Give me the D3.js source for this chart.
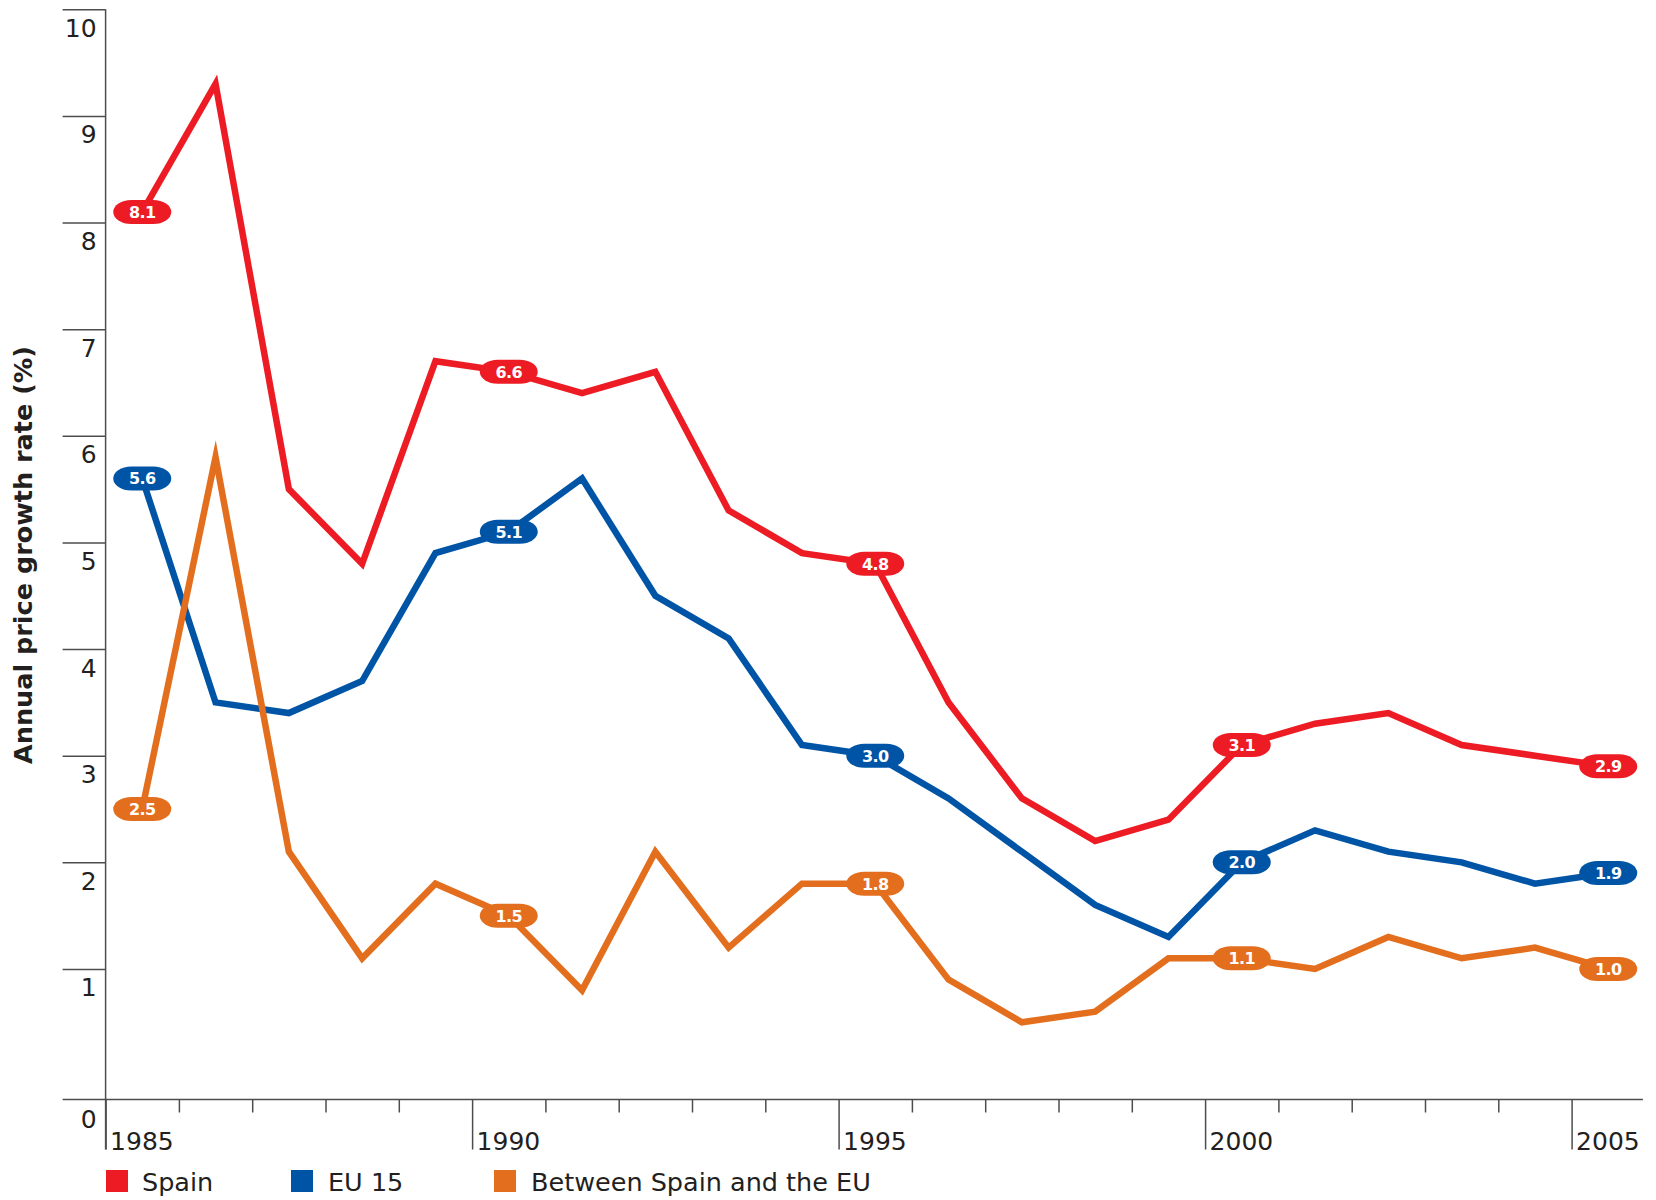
<!DOCTYPE html>
<html>
<head>
<meta charset="utf-8">
<script src="https://cdn.jsdelivr.net/npm/d3@7/dist/d3.min.js"></script>
<style>
  html, body { margin: 0; padding: 0; background: #fff; }
  svg { display: block; }
  text { font-family: "DejaVu Sans", Verdana, sans-serif; fill: #231f20; }
</style>
</head>
<body>
<svg id="chart" width="1656" height="1200"></svg>
<script>
const years = d3.range(1985, 2006);
const spain = [8.1, 9.3, 5.5, 4.8, 6.7, 6.6, 6.4, 6.6, 5.3, 4.9, 4.8, 3.5, 2.6, 2.2, 2.4, 3.1, 3.3, 3.4, 3.1, 3.0, 2.9];
const eu15  = [5.6, 3.5, 3.4, 3.7, 4.9, 5.1, 5.6, 4.5, 4.1, 3.1, 3.0, 2.6, 2.1, 1.6, 1.3, 2.0, 2.3, 2.1, 2.0, 1.8, 1.9];
const diff  = [2.5, 5.8, 2.1, 1.1, 1.8, 1.5, 0.8, 2.1, 1.2, 1.8, 1.8, 0.9, 0.5, 0.6, 1.1, 1.1, 1.0, 1.3, 1.1, 1.2, 1.0];
const seriesNames = ["Spain", "EU 15", "Between Spain and the EU"];
const seriesColors = ["#ed1c24", "#0054a6", "#e36f1e"];
const yTicks = [1, 2, 3, 4, 5, 6, 7, 8, 9, 10];
const majorYears = [1985, 1990, 1995, 2000, 2005];
const labelYears = [1985, 1990, 1995, 2000, 2005];
const yTitle = "Annual price growth rate (%)";

const svg = d3.select("#chart");
const x = d3.scaleLinear().domain([1985, 2006]).range([105.6, 105.6 + 21 * 73.3]);
const y = d3.scaleLinear().domain([0, 10]).range([1075.6, 9.3]);
const baseline = 1099.5;
const axisColor = "#4d4d4d";
const tickFont = "25px";

// Y axis
const yAxis = svg.append("g").attr("transform", `translate(${x(1985)},0)`)
  .call(d3.axisLeft(y).tickValues(yTicks).tickSize(43).tickFormat(d3.format("d")));
yAxis.select(".domain").remove();
yAxis.selectAll(".tick line").attr("stroke", axisColor).attr("stroke-width", 1.5);
yAxis.selectAll(".tick text")
  .attr("x", -9).attr("dy", null).attr("y", 27)
  .style("font-size", tickFont).style("font-family", "DejaVu Sans").attr("fill", "#231f20");
// Vertical axis line
svg.append("line").attr("x1", x(1985)).attr("x2", x(1985))
  .attr("y1", y(10)).attr("y2", baseline + 50)
  .attr("stroke", axisColor).attr("stroke-width", 1.5);
// Zero tick / baseline
svg.append("line").attr("x1", x(1985) - 43).attr("x2", x(2006) - 2)
  .attr("y1", baseline).attr("y2", baseline)
  .attr("stroke", axisColor).attr("stroke-width", 1.5);
svg.append("text").attr("x", x(1985) - 9).attr("y", baseline + 28)
  .attr("text-anchor", "end").style("font-size", tickFont).text("0");

// X axis
const xAxis = svg.append("g").attr("transform", `translate(0,${baseline})`)
  .call(d3.axisBottom(x).tickValues(years).tickSize(13)
    .tickFormat(d => majorYears.includes(d) ? String(d) : ""));
xAxis.select(".domain").remove();
xAxis.selectAll(".tick line").attr("stroke", axisColor).attr("stroke-width", 1.5)
  .attr("y2", d => majorYears.includes(d) ? 50 : 13);
xAxis.selectAll(".tick text")
  .attr("text-anchor", "start").attr("x", 4).attr("y", 50).attr("dy", null)
  .style("font-size", tickFont).style("font-family", "DejaVu Sans").attr("fill", "#231f20");

// Y title
svg.append("text")
  .attr("transform", `translate(32,555) rotate(-90)`)
  .attr("text-anchor", "middle")
  .style("font-size", "25.5px").style("font-weight", "bold")
  .text(yTitle);

// Lines
const allSeries = [spain, eu15, diff];
const drawOrder = [1, 2, 0];
const line = d3.line().x((d, i) => x(years[i] + 0.5)).y(d => y(d));
drawOrder.forEach(k => {
  svg.append("path").datum(allSeries[k])
    .attr("d", line)
    .attr("fill", "none")
    .attr("stroke", seriesColors[k])
    .attr("stroke-width", 6.5)
    .attr("stroke-linejoin", "miter")
    .attr("stroke-miterlimit", 10);
});

// Value pills
allSeries.forEach((vals, k) => {
  labelYears.forEach(yr => {
    const i = years.indexOf(yr);
    const cx = x(yr + 0.5), cy = y(vals[i]);
    const g = svg.append("g").attr("transform", `translate(${cx},${cy})`);
    g.append("rect").attr("x", -29).attr("y", -12).attr("width", 58).attr("height", 24)
      .attr("rx", 18).attr("ry", 12).attr("fill", seriesColors[k]);
    g.append("text").attr("text-anchor", "middle").attr("dy", "0.37em")
      .style("font-size", "16px").style("font-weight", "bold")
      .style("letter-spacing", "-0.6px")
      .attr("fill", "#fff").style("fill", "#fff")
      .text(d3.format(".1f")(vals[i]));
  });
});

// Legend
const legendX = [106, 291, 494];
const legendTextX = [142, 328, 531];
seriesNames.forEach((name, k) => {
  svg.append("rect").attr("x", legendX[k]).attr("y", 1170).attr("width", 22).attr("height", 22)
    .attr("fill", seriesColors[k]);
  svg.append("text").attr("x", legendTextX[k]).attr("y", 1191)
    .style("font-size", "25.5px").text(name);
});
</script>
</body>
</html>
